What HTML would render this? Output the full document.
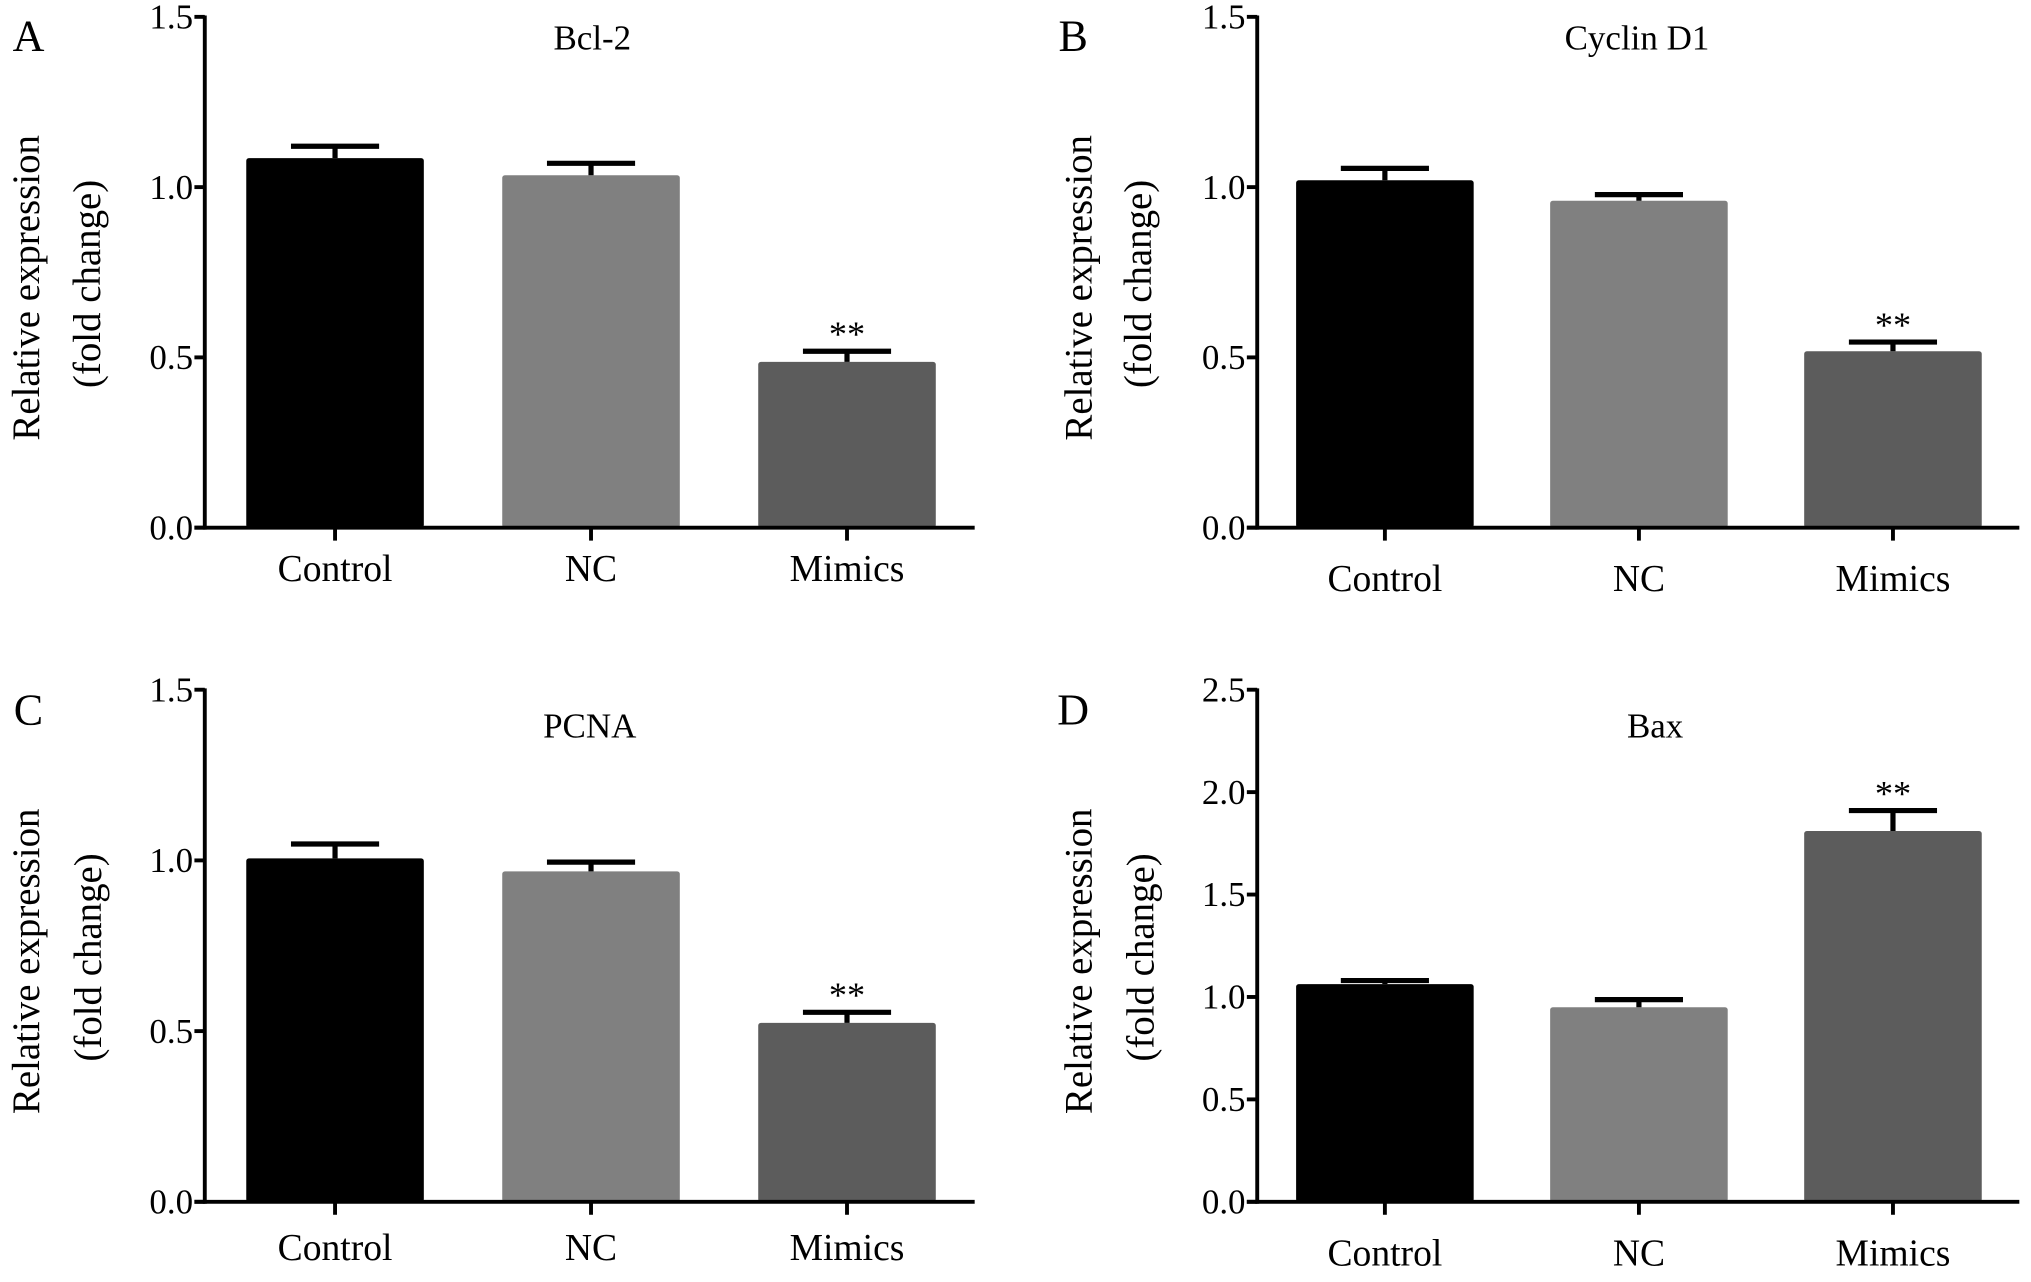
<!DOCTYPE html>
<html><head><meta charset="utf-8"><style>
html,body{margin:0;padding:0;background:#fff;}
svg, svg text{font-family:"Liberation Serif","DejaVu Serif",serif;}
</style></head><body>
<svg id="fig" width="2031" height="1277" viewBox="0 0 1567 985" preserveAspectRatio="none" xmlns="http://www.w3.org/2000/svg" font-family="Liberation Serif, serif"></svg>
<script>
const categories = ["Control","NC","Mimics"];
const colors = ["#000000","#808080","#5c5c5c"];
const bcl2Values = [1.085, 1.035, 0.487];
const bcl2Errors = [0.035, 0.035, 0.031];
const cyclinValues = [1.02, 0.96, 0.518];
const cyclinErrors = [0.035, 0.018, 0.027];
const pcnaValues = [1.006, 0.968, 0.524];
const pcnaErrors = [0.042, 0.027, 0.031];
const baxValues = [1.063, 0.95, 1.81];
const baxErrors = [0.017, 0.037, 0.1];
const ticksA = [0, 0.5, 1.0, 1.5];
const ticksD = [0, 0.5, 1.0, 1.5, 2.0, 2.5];
const tickLabelsA = ["0.0","0.5","1.0","1.5"];
const tickLabelsD = ["0.0","0.5","1.0","1.5","2.0","2.5"];
const sigMarks = ["","","**"];

const panels = [
 {id:"a",letter:"A",title:"Bcl-2",vals:bcl2Values,errs:bcl2Errors,ticks:ticksA,labs:tickLabelsA,max:1.5,ax:158,top:13,zero:407,xEnd:752,bx0:190,lx:22,ly:28,tx:457,ty:38,xly:448,yt1:20,yt2:67},
 {id:"b",letter:"B",title:"Cyclin D1",vals:cyclinValues,errs:cyclinErrors,ticks:ticksA,labs:tickLabelsA,max:1.5,ax:970,top:13,zero:407,xEnd:1558,bx0:1000,lx:828,ly:28,tx:1263,ty:38,xly:456,yt1:832,yt2:878},
 {id:"c",letter:"C",title:"PCNA",vals:pcnaValues,errs:pcnaErrors,ticks:ticksA,labs:tickLabelsA,max:1.5,ax:158,top:532,zero:927,xEnd:752,bx0:190,lx:22,ly:548,tx:455,ty:569,xly:972,yt1:20,yt2:68},
 {id:"d",letter:"D",title:"Bax",vals:baxValues,errs:baxErrors,ticks:ticksD,labs:tickLabelsD,max:2.5,ax:970,top:532,zero:927,xEnd:1558,bx0:1000,lx:828,ly:548,tx:1277,ty:569,xly:976,yt1:832,yt2:880}
];
const NS="http://www.w3.org/2000/svg";
const svg=document.getElementById('fig');
function mk(tag,attrs,parent,text){const e=document.createElementNS(NS,tag);for(const k in attrs)e.setAttribute(k,attrs[k]);if(text!==undefined){e.textContent=text;e.style.fontFamily='"Liberation Serif", serif';}parent.appendChild(e);return e;}
panels.forEach(p=>{
  const g=mk('g',{},svg);
  
  
  const y=v=>p.zero-(v/p.max)*(p.zero-p.top);
  const bw=137, step=(p.id==='a'||p.id==='c')?197.5:196;
  const bx=i=>p.bx0+i*step;
  p.vals.forEach((v,i)=>{
    const r=mk('rect',{x:bx(i),y:y(v),width:bw,height:p.zero-y(v),fill:colors[i],rx:2},g);
    
    
    const cx=bx(i)+bw/2, ye=y(v+p.errs[i]);
    const eb=mk('path',{d:`M${cx} ${y(v)}V${ye}M${cx-34} ${ye}H${cx+34}`,stroke:'#000','stroke-width':'4',fill:'none'},g);
    
    
    if(sigMarks[i]){
      const s=mk('text',{x:cx,y:ye-4,'text-anchor':'middle','font-size':'28'},g,sigMarks[i]);
      
      
    }
    const tk=mk('line',{x1:cx,x2:cx,y1:p.zero,y2:p.zero+10,stroke:'#000','stroke-width':'3'},g);
    
    
    const xl=mk('text',{x:cx,y:p.xly,'text-anchor':'middle','font-size':'29'},g,categories[i]);
    
    
  });
  const ya=mk('line',{x1:p.ax,x2:p.ax,y1:p.top-1,y2:p.zero+1.5,stroke:'#000','stroke-width':'3'},g);
  
  
  const xa=mk('line',{x1:p.ax-8,x2:p.xEnd,y1:p.zero,y2:p.zero,stroke:'#000','stroke-width':'3'},g);
  
  
  p.ticks.forEach((t,k)=>{
    const l=mk('line',{x1:p.ax-8,x2:p.ax,y1:y(t),y2:y(t),stroke:'#000','stroke-width':'3'},g);
    
    
    const tl=mk('text',{x:p.ax-9,y:y(t)+9,'text-anchor':'end','font-size':'27'},g,p.labs[k]);
    
    
  });
  const cy=(p.top+p.zero)/2+12;
  const t1=mk('text',{x:p.yt1+10,y:cy,'text-anchor':'middle','font-size':'30',transform:`rotate(-90 ${p.yt1+10} ${cy})`},g,'Relative expression');
  
  
  const t2=mk('text',{x:p.yt2+10,y:cy-3,'text-anchor':'middle','font-size':'30',transform:`rotate(-90 ${p.yt2+10} ${cy-3})`},g,'(fold change)');
  
  
  const tt=mk('text',{x:p.tx,y:p.ty,'text-anchor':'middle','font-size':'27'},g,p.title);
  
  
  const lt=mk('text',{x:p.lx,y:p.ly+11,'text-anchor':'middle','font-size':'34'},g,p.letter);
  
  
});
</script>
</body></html>
